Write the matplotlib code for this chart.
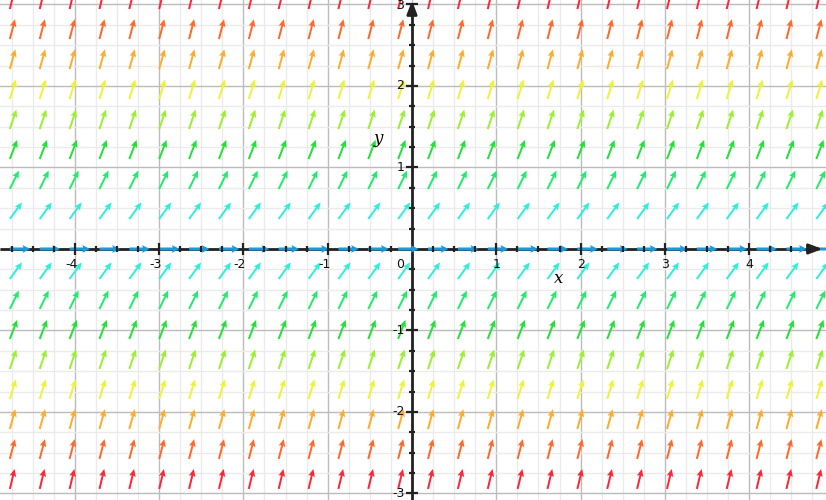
import numpy as np
import matplotlib
matplotlib.use("Agg")
import matplotlib.pyplot as plt

# ---- data ----
# |y| levels of the arrow rows (index 0 = the x-axis row), arrow angle (deg) and colour per level
row_index = [0, 1, 2, 3, 4, 5, 6, 7, 8]
row_angles = [0, 54, 64, 69, 71.5, 73, 74.5, 75.5, 76.5]
row_colors = ["#1e98d6", "#30eedc", "#22ec6c", "#26e03a", "#9cef33",
              "#eef23c", "#ffab2c", "#ff6a2c", "#ff2638"]
x_tick_labels = ["-4", "-3", "-2", "-1", "1", "2", "3", "4"]
x_tick_values = [-4, -3, -2, -1, 1, 2, 3, 4]
y_tick_labels = ["-3", "-2", "-1", "1", "2", "3"]
y_tick_values = [-3, -2, -1, 1, 2, 3]

# ---- layout ----
XMIN, XMAX = -4.887, 4.911
YMIN, YMAX = -3.08, 3.055
COL_START, COL_STEP, N_COLS = -4.77, 0.3543, 28
ROW_STEP = 0.368

fig = plt.figure(figsize=(8.26, 5.0), dpi=100)
ax = fig.add_axes([0, 0, 1, 1])
ax.set_xlim(XMIN, XMAX)
ax.set_ylim(YMIN, YMAX)
ax.axis("off")

# grid
for v in np.arange(-4.75, 4.9, 0.25):
    major = abs(v - round(v)) < 1e-9
    ax.axvline(v, color="#bcbcbc" if major else "#ebebeb", lw=1.0, zorder=0)
for v in np.arange(-3.0, 3.06, 0.25):
    major = abs(v - round(v)) < 1e-9
    ax.axhline(v, color="#bcbcbc" if major else "#ebebeb", lw=1.0, zorder=0)

# axes lines
ax.plot([XMIN, 4.80], [0, 0], color="#222222", lw=2.0, zorder=2, solid_capstyle="butt")
ax.plot([0, 0], [YMIN, 2.98], color="#222222", lw=2.0, zorder=2, solid_capstyle="butt")
ax.annotate("", xy=(4.87, 0), xytext=(4.72, 0),
            arrowprops=dict(arrowstyle="-|>,head_length=0.8,head_width=0.3",
                            color="#222222", lw=2.0, shrinkA=0, shrinkB=0), zorder=5)
ax.annotate("", xy=(0, 3.05), xytext=(0, 2.90),
            arrowprops=dict(arrowstyle="-|>,head_length=0.8,head_width=0.3",
                            color="#222222", lw=2.0, shrinkA=0, shrinkB=0), zorder=5)

# vector field
xs = COL_START + COL_STEP * np.arange(N_COLS)
for i in row_index:
    a = np.deg2rad(row_angles[i])
    ys = [0.0] if i == 0 else [i * ROW_STEP, -i * ROW_STEP]
    X, Y = np.meshgrid(xs, ys)
    U = np.full(X.shape, np.cos(a))
    V = np.full(X.shape, np.sin(a))
    ax.quiver(X, Y, U, V, color=row_colors[i], angles="uv", scale_units="inches",
              scale=1 / 0.205, pivot="tail", units="dots",
              width=3.0 if i == 0 else 2.0,
              headwidth=2.6 if i == 0 else 3.4,
              headlength=2.6 if i == 0 else 3.8,
              headaxislength=2.3 if i == 0 else 3.3,
              zorder=3.5 if i == 0 else 3)

# tick marks
tx = np.arange(-4.75, 4.8, 0.25)
minor_x = [v for v in tx if abs(v - round(v)) > 1e-9]
major_x = [v for v in tx if abs(v - round(v)) < 1e-9 and abs(v) > 1e-9]
ax.plot(minor_x, np.zeros(len(minor_x)), ls="none", marker="|", ms=4, mew=1.6, color="#222222", zorder=4)
ax.plot(major_x, np.zeros(len(major_x)), ls="none", marker="|", ms=8, mew=1.6, color="#222222", zorder=4)
ty = np.arange(-3.0, 3.01, 0.25)
minor_y = [v for v in ty if abs(v - round(v)) > 1e-9]
major_y = [v for v in ty if abs(v - round(v)) < 1e-9 and abs(v) > 1e-9]
ax.plot(np.zeros(len(minor_y)), minor_y, ls="none", marker="_", ms=4, mew=1.6, color="#222222", zorder=4)
ax.plot(np.zeros(len(major_y)), major_y, ls="none", marker="_", ms=8, mew=1.6, color="#222222", zorder=4)

# tick labels
for v, s in zip(x_tick_values, x_tick_labels):
    off = -0.04 if v < 0 else 0.0
    ax.text(v + off, -0.11, s, ha="center", va="top", fontsize=9, color="#111111",
            family="DejaVu Sans", zorder=6)
for v, s in zip(y_tick_values, y_tick_labels):
    yy = min(v, 2.99)
    ax.text(-0.09, yy, s, ha="right", va="center", fontsize=9, color="#111111",
            family="DejaVu Sans", zorder=6)
ax.text(-0.09, -0.11, "0", ha="right", va="top", fontsize=9, color="#111111",
        family="DejaVu Sans", zorder=6)

# axis names
ax.text(1.74, -0.36, "x", fontsize=12, style="italic", family="DejaVu Serif",
        ha="center", va="center", zorder=6)
ax.text(-0.40, 1.36, "y", fontsize=12, style="italic", family="DejaVu Serif",
        ha="center", va="center", zorder=6)

fig.savefig("out.png", dpi=100)
